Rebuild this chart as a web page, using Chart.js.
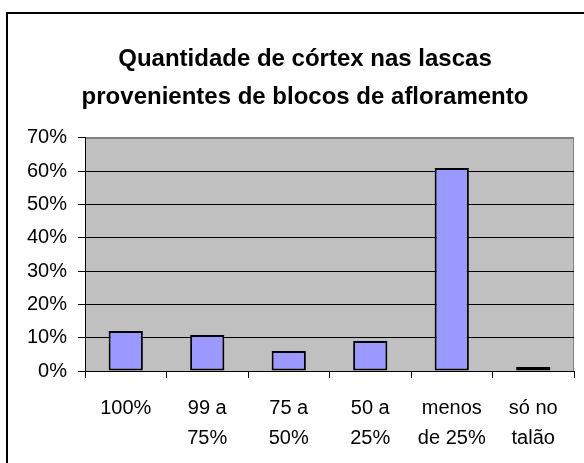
<!DOCTYPE html>
<html>
<head>
<meta charset="utf-8">
<script src="https://cdn.jsdelivr.net/npm/chart.js@4/dist/chart.umd.min.js"></script>
<style>
  html, body { margin: 0; padding: 0; background: #fff; overflow: hidden; }
  #wrap { position: relative; width: 584px; height: 463px; }
  #frame { position: absolute; left: 6px; top: 12px; width: 700px; height: 600px; border: 2px solid #000; pointer-events: none; }
  canvas { position: absolute; left: 0; top: 0; }
</style>
</head>
<body>
<div id="wrap">
  <canvas id="c" width="584" height="463"></canvas>
  <div id="frame"></div>
</div>
<script>
const titleLines = ["Quantidade de córtex nas lascas", "provenientes de blocos de afloramento"];
const categories = [["100%"], ["99 a", "75%"], ["75 a", "50%"], ["50 a", "25%"], ["menos", "de 25%"], ["só no", "talão"]];
const values = [12.0, 10.8, 6.0, 9.0, 61.0, 1.2];
const yTicks = [0, 10, 20, 30, 40, 50, 60, 70];

const FONT = "'Liberation Sans', Arial, sans-serif";

const plotBg = {
  id: 'plotBg',
  afterLayout(chart) {
    // center the title over the chart frame (as in the original) rather than the canvas
    if (chart.titleBlock) chart.titleBlock.left = 36;
  },
  beforeDraw(chart) {
    const { ctx, chartArea: a } = chart;
    ctx.save();
    ctx.fillStyle = '#C0C0C0';
    ctx.fillRect(a.left, a.top, a.right - a.left, a.bottom - a.top);
    ctx.strokeStyle = '#808080';
    ctx.lineWidth = 1;
    ctx.beginPath();
    ctx.moveTo(a.left, a.top + 0.5);
    ctx.lineTo(a.right - 0.5, a.top + 0.5);
    ctx.lineTo(a.right - 0.5, a.bottom);
    ctx.stroke();
    ctx.restore();
  }
};

new Chart(document.getElementById('c'), {
  type: 'bar',
  data: {
    labels: categories,
    datasets: [{
      data: values,
      backgroundColor: '#9999FF',
      borderColor: '#000000',
      borderWidth: 2,
      borderSkipped: false,
      categoryPercentage: 1.0,
      barPercentage: 0.42
    }]
  },
  options: {
    responsive: false,
    animation: false,
    devicePixelRatio: 1,
    layout: { padding: { left: 0, right: 10, top: 20, bottom: 0 } },
    plugins: {
      legend: { display: false },
      tooltip: { enabled: false },
      title: {
        display: true,
        text: titleLines,
        color: '#000',
        font: { family: FONT, size: 24, weight: 'bold', lineHeight: 1.583 },
        padding: { top: 20, bottom: 22 }
      }
    },
    scales: {
      x: {
        grid: { display: true, drawOnChartArea: false, drawTicks: true, tickLength: 7, color: '#000', offset: true },
        border: { display: true, color: '#000', width: 1 },
        ticks: { color: '#000', font: { family: FONT, size: 20, lineHeight: 1.5 }, padding: 15, maxRotation: 0, autoSkip: false },
        afterFit(scale) { scale.height = 92; }
      },
      y: {
        min: 0, max: 70,
        afterBuildTicks(scale) { scale.ticks = yTicks.map(v => ({ value: v })); },
        grid: {
          color: (c) => (c.tick && c.tick.value === 70 ? '#808080' : '#000'),
          tickColor: '#000',
          tickLength: 7,
          lineWidth: 1
        },
        border: { display: true, color: '#000', width: 1 },
        ticks: {
          color: '#000',
          font: { family: FONT, size: 20 },
          padding: 11,
          callback: (v) => v + '%'
        },
        afterFit(scale) { scale.width = 85; }
      }
    }
  },
  plugins: [plotBg]
});
</script>
</body>
</html>
